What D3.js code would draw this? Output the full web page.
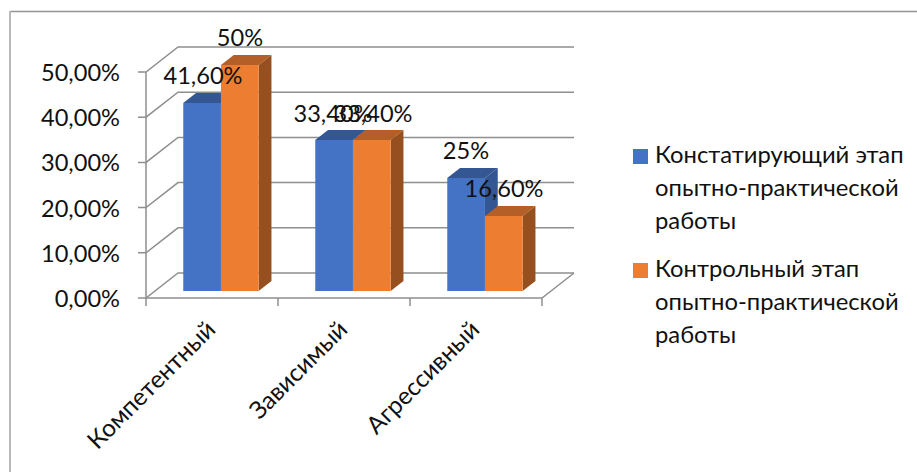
<!DOCTYPE html>
<html><head><meta charset="utf-8">
<script src="https://cdn.jsdelivr.net/npm/d3@7/dist/d3.min.js"></script>
<style>html,body{margin:0;background:#fff}svg{display:block}text{font-family:"Lato","Open Sans",sans-serif;fill:#111}</style>
</head><body><svg id="c" width="917" height="472"></svg>
<script>
const categories = ["Компетентный","Зависимый","Агрессивный"];
const seriesNames = [["Констатирующий этап","опытно-практической","работы"],["Контрольный этап","опытно-практической","работы"]];
const valuesA = [41.6,33.4,25];
const valuesB = [50,33.4,16.6];
const labelsA = ["41,60%","33,40%","25%"];
const labelsB = ["50%","33,40%","16,60%"];
const yTicks = [0,10,20,30,40,50];
const yTickLabels = ["0,00%","10,00%","20,00%","30,00%","40,00%","50,00%"];
const colors = {a:"#4472c4",aTop:"#345692",b:"#ed7d31",bTop:"#b45f27",bSide:"#964f1e",grid:"#8f8f8f"};

const svg = d3.select("#c");
const x = d3.scaleBand().domain(categories).range([146,542]).paddingInner(0).paddingOuter(0);
const y = d3.scaleLinear().domain([0,50]).range([298,72]);
const depth = {dx:32, dy:-25};
const barDepth = {near:0.28, far:0.68};
const barW = 37.7;
const P = (px,py,d)=>[px+depth.dx*d, py+depth.dy*d];
const line = d3.line();

svg.append("line").attr("x1",10).attr("x2",917).attr("y1",11.5).attr("y2",11.5).attr("stroke","#949494").attr("stroke-width",1.5);
svg.append("line").attr("x1",10).attr("x2",10).attr("y1",11).attr("y2",472).attr("stroke","#b8b8b8").attr("stroke-width",2);

// floor and walls
yTicks.forEach(t=>{
  const py=y(t);
  svg.append("path").attr("d",line([[138,py],[146,py],P(146,py,1),P(542,py,1)])).attr("fill","none").attr("stroke",colors.grid).attr("stroke-width",1.5);
});
svg.append("path").attr("d",line([[146,y(50)],[146,y(0)],[542,y(0)],P(542,y(0),1)])).attr("fill","none").attr("stroke",colors.grid).attr("stroke-width",1.5);
x.domain().concat(["end"]).forEach((c,i)=>{
  const px=146+i*x.bandwidth();
  svg.append("line").attr("x1",px).attr("x2",px).attr("y1",298).attr("y2",306).attr("stroke",colors.grid).attr("stroke-width",1.5);
});

// bars
function bar(cx,v,front,top,side){
  const y0=y(0), yv=y(v);
  const a=P(cx,yv,barDepth.near), b=P(cx+barW,yv,barDepth.near), c=P(cx+barW,y0,barDepth.near), d=P(cx,y0,barDepth.near);
  const a2=P(cx,yv,barDepth.far), b2=P(cx+barW,yv,barDepth.far), c2=P(cx+barW,y0,barDepth.far);
  svg.append("path").attr("d",line([a,a2,b2,b])+"Z").attr("fill",top);
  svg.append("path").attr("d",line([b,b2,c2,c])+"Z").attr("fill",side);
  svg.append("path").attr("d",line([a,b,c,d])+"Z").attr("fill",front);
}
categories.forEach((c,i)=>{
  const mid=x(c)+x.bandwidth()/2;
  bar(mid-barW,valuesA[i],colors.a,colors.aTop,colors.aTop);
  bar(mid,valuesB[i],colors.b,colors.bTop,colors.bSide);
});

// labels
const fs=23.6;
yTicks.forEach((t,i)=>{
  svg.append("text").attr("x",120).attr("y",y(t)+9).attr("text-anchor","end").attr("font-size",fs).text(yTickLabels[i]);
});
const offA=[[203,84],[333,122],[466,159]];
const offB=[[240,46],[373,122],[504,197]];
categories.forEach((c,i)=>{
  svg.append("text").attr("x",offA[i][0]).attr("y",offA[i][1]).attr("text-anchor","middle").attr("font-size",fs).text(labelsA[i]);
  svg.append("text").attr("x",offB[i][0]).attr("y",offB[i][1]).attr("text-anchor","middle").attr("font-size",fs).text(labelsB[i]);
});
categories.forEach((c,i)=>{
  const px=x(c)+x.bandwidth()/2;
  svg.append("text").attr("transform",`translate(${px+5},${331}) rotate(-45)`).attr("text-anchor","end").attr("font-size",24.4).text(c);
});

// legend
[[149,colors.a],[263,colors.b]].forEach(([ty,col],i)=>{
  svg.append("rect").attr("x",633).attr("y",ty).attr("width",15).attr("height",15).attr("fill",col);
  seriesNames[i].forEach((s,j)=>{
    svg.append("text").attr("x",655).attr("y",ty+14+j*33).attr("font-size",23.8).text(s);
  });
});
</script></body></html>
